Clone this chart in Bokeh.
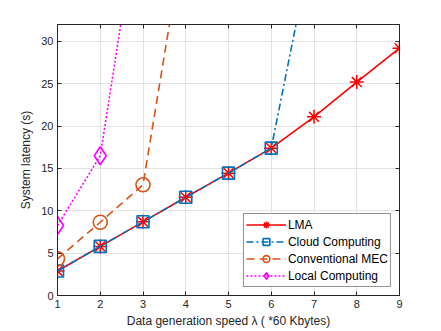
from bokeh.plotting import figure
from bokeh.models import LinearAxis, FixedTicker, Legend, LegendItem, Range1d
from bokeh.embed import file_html
from bokeh.resources import INLINE

# data
x_lma = [1, 2, 3, 4, 5, 6, 7, 8, 9]
y_lma = [2.9, 5.8, 8.7, 11.6, 14.45, 17.4, 21.1, 25.2, 29.2]
x_cloud = [1, 2, 3, 4, 5, 6, 7]
y_cloud = [2.9, 5.8, 8.7, 11.6, 14.45, 17.4, 42.6]
x_mec = [1, 2, 3, 4]
y_mec = [4.33, 8.65, 13.07, 43.7]
x_local = [1, 2, 3]
y_local = [8.26, 16.5, 48.8]
x_ticks = [1, 2, 3, 4, 5, 6, 7, 8, 9]
y_ticks = [0, 5, 10, 15, 20, 25, 30]

FONT = "Liberation Sans"
TXT = "#262626"

p = figure(width=441, height=331, output_backend="svg", toolbar_location=None,
           x_range=Range1d(1, 9), y_range=Range1d(0, 32),
           min_border_left=57, min_border_right=42, min_border_top=24, min_border_bottom=36)
p.outline_line_color = TXT
p.outline_line_width = 1
p.background_fill_color = "white"

for ax in [p.xaxis[0], p.yaxis[0]]:
    ax.major_tick_in = 4
    ax.major_tick_out = 0
    ax.minor_tick_line_color = None
    ax.axis_line_color = TXT
    ax.major_tick_line_color = TXT
    ax.major_label_text_font = FONT
    ax.major_label_text_font_size = "11px"
    ax.major_label_text_color = TXT
    ax.axis_label_text_font = FONT
    ax.axis_label_text_font_size = "12px"
    ax.axis_label_text_font_style = "normal"
    ax.axis_label_text_color = TXT
p.xaxis[0].ticker = FixedTicker(ticks=x_ticks)
p.yaxis[0].ticker = FixedTicker(ticks=y_ticks)
p.xaxis[0].axis_label = "Data generation speed λ ( *60 Kbytes)"
p.yaxis[0].axis_label = "System latency (s)"
p.xaxis[0].axis_label_standoff = 3
p.yaxis[0].axis_label_standoff = 5
p.xaxis[0].major_label_standoff = 4
p.yaxis[0].major_label_standoff = 4

top = LinearAxis(ticker=FixedTicker(ticks=x_ticks), major_label_text_color=None,
                 major_tick_in=4, major_tick_out=0, minor_tick_line_color=None,
                 axis_line_color=TXT, major_tick_line_color=TXT, major_label_standoff=0,
                 major_label_overrides={t: "" for t in x_ticks})
right = LinearAxis(ticker=FixedTicker(ticks=y_ticks), major_label_text_color=None,
                   major_tick_in=4, major_tick_out=0, minor_tick_line_color=None,
                   axis_line_color=TXT, major_tick_line_color=TXT, major_label_standoff=0,
                   major_label_overrides={t: "" for t in y_ticks})
p.add_layout(top, "above")
p.add_layout(right, "right")

p.grid.grid_line_color = "#e3e3e3"
p.xgrid.ticker = FixedTicker(ticks=x_ticks)
p.ygrid.ticker = FixedTicker(ticks=y_ticks)

RED = "#FF0000"
BLUE = "#0072BD"
ORANGE = "#D95319"
MAG = "#FF00FF"

l1 = p.line(x_lma, y_lma, line_color=RED, line_width=1.6)
m1 = p.scatter(x_lma, y_lma, marker="asterisk", size=14, line_color=RED, line_width=1.5)
l2 = p.line(x_cloud, y_cloud, line_color=BLUE, line_width=1.6, line_dash="7 3 2 3")
m2 = p.scatter(x_cloud, y_cloud, marker="square", size=12, line_color=BLUE,
               fill_color=None, line_width=1.6)
l3 = p.line(x_mec, y_mec, line_color=ORANGE, line_width=1.6, line_dash="8 5")
m3 = p.scatter(x_mec, y_mec, marker="circle", size=14, line_color=ORANGE,
               fill_color=None, line_width=1.6)
l4 = p.line(x_local, y_local, line_color=MAG, line_width=1.6, line_dash="2 2")
m4 = p.scatter(x_local, y_local, marker="diamond", size=18, line_color=MAG,
               fill_color=None, line_width=1.6)

legend = Legend(items=[
    LegendItem(label="LMA", renderers=[l1, m1]),
    LegendItem(label="Cloud Computing", renderers=[l2, m2]),
    LegendItem(label="Conventional MEC", renderers=[l3, m3]),
    LegendItem(label="Local Computing", renderers=[l4, m4]),
], location="bottom_right")
legend.label_text_font = FONT
legend.label_text_font_size = "12px"
legend.label_text_color = "black"
legend.border_line_color = TXT
legend.border_line_width = 1
legend.background_fill_color = "white"
legend.background_fill_alpha = 1
legend.glyph_width = 40
legend.glyph_height = 17
legend.label_height = 17
legend.label_standoff = 2
legend.spacing = 0
legend.padding = 2
legend.margin = 8
p.add_layout(legend, "center")

open("out.html", "w").write(file_html(p, INLINE))
